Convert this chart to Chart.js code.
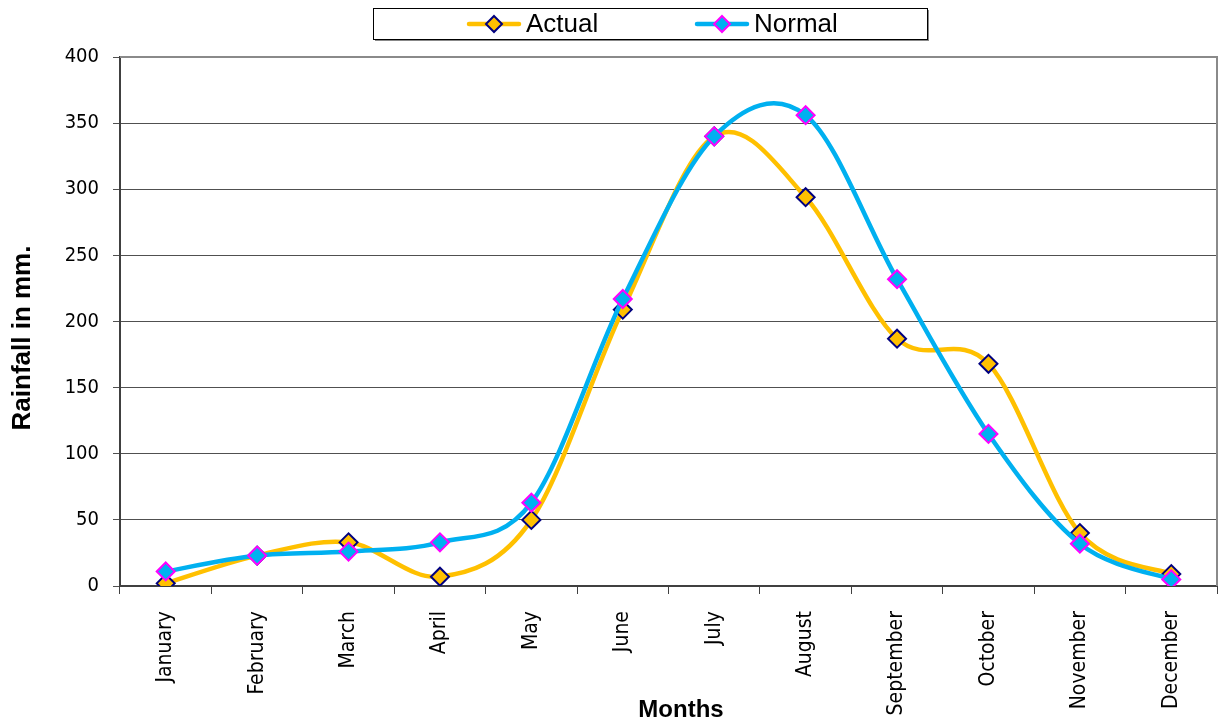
<!DOCTYPE html>
<html>
<head>
<meta charset="utf-8">
<script src="https://cdn.jsdelivr.net/npm/chart.js@4/dist/chart.umd.min.js"></script>
<style>
html,body{margin:0;padding:0;background:#fff;}
#wrap{width:1221px;height:728px;}
</style>
</head>
<body>
<div id="wrap"><canvas id="c" width="1221" height="728"></canvas></div>
<script>
const months = ["January","February","March","April","May","June","July","August","September","October","November","December"];
const actualValues = [2, 23, 33, 7, 50, 209, 340, 294, 187, 168, 40, 9];
const normalValues = [11, 23, 26, 33, 63, 217, 340, 356, 232, 115, 32, 5];
const yTicks = [0, 50, 100, 150, 200, 250, 300, 350, 400];
const seriesNames = ["Actual", "Normal"];
const xTitle = "Months";
const yTitle = "Rainfall in mm.";

const yTickFont = {family: "'DejaVu Sans Condensed','DejaVu Sans',sans-serif", size: 20};
const xTickFont = {family: "'DejaVu Sans Condensed','DejaVu Sans',sans-serif", size: 21};

// Excel-like smoothing (uniform Catmull-Rom) applied to the library's own point elements
const smooth = {
  id: 'smooth',
  beforeDatasetsDraw(chart) {
    chart.data.datasets.forEach((ds, i) => {
      const meta = chart.getDatasetMeta(i);
      const pts = meta.data;
      const n = pts.length;
      for (let k = 0; k < n; k++) {
        const p = pts[k];
        const prev = pts[Math.max(0, k - 1)];
        const next = pts[Math.min(n - 1, k + 1)];
        const tx = (next.x - prev.x) / 6;
        const ty = (next.y - prev.y) / 6;
        p.cp1x = p.x - tx; p.cp1y = p.y - ty;
        p.cp2x = p.x + tx; p.cp2y = p.y + ty;
      }
      if (meta.dataset) {
        meta.dataset._pointsUpdated = true;
        meta.dataset._path = undefined;
      }
    });
  }
};

const frame = {
  id: 'frame',
  beforeDatasetsDraw(chart) {
    const {ctx, chartArea: a} = chart;
    ctx.save();
    ctx.strokeStyle = '#8a8a8a';
    ctx.lineWidth = 2;
    ctx.beginPath();
    ctx.moveTo(a.left, a.top);
    ctx.lineTo(a.right, a.top);
    ctx.lineTo(a.right, a.bottom);
    ctx.stroke();
    ctx.restore();
  },
  afterDraw(chart) {
    const {ctx} = chart;
    ctx.save();
    ctx.fillStyle = '#000';
    ctx.textAlign = 'center';
    ctx.textBaseline = 'middle';
    ctx.font = "bold 24px 'Liberation Sans', Arial, sans-serif";
    ctx.fillText(xTitle, 681, 710);
    ctx.save();
    ctx.translate(23, 338);
    ctx.rotate(-Math.PI / 2);
    ctx.font = "bold 26px 'Liberation Sans', Arial, sans-serif";
    ctx.fillText(yTitle, 0, 0);
    ctx.restore();
    // legend box
    const bx = 373, by = 8, bw = 554, bh = 31;
    ctx.fillStyle = '#888';
    ctx.fillRect(bx + 2, by + 2, bw, bh);
    ctx.fillStyle = '#fff';
    ctx.fillRect(bx, by, bw, bh);
    ctx.strokeStyle = '#000';
    ctx.lineWidth = 1;
    ctx.strokeRect(bx + 0.5, by + 0.5, bw, bh);
    const starts = [469, 697];
    const cy = 24;
    chart.data.datasets.forEach((ds, i) => {
      const x0 = starts[i];
      ctx.strokeStyle = ds.borderColor;
      ctx.lineWidth = 4.5;
      ctx.lineCap = 'round';
      ctx.beginPath();
      ctx.moveTo(x0, cy);
      ctx.lineTo(x0 + 50, cy);
      ctx.stroke();
      const cx = x0 + 25, r = 8;
      ctx.beginPath();
      ctx.moveTo(cx, cy - r);
      ctx.lineTo(cx + r, cy);
      ctx.lineTo(cx, cy + r);
      ctx.lineTo(cx - r, cy);
      ctx.closePath();
      ctx.fillStyle = ds.pointBackgroundColor;
      ctx.fill();
      ctx.strokeStyle = ds.pointBorderColor;
      ctx.lineWidth = 2;
      ctx.stroke();
      ctx.fillStyle = '#000';
      ctx.textAlign = 'left';
      ctx.font = "26px 'Liberation Sans', Arial, sans-serif";
      ctx.fillText(ds.label, x0 + 57, cy + 1);
    });
    ctx.restore();
  }
};

new Chart(document.getElementById('c'), {
  type: 'line',
  data: {
    labels: months,
    datasets: [
      {
        label: seriesNames[0],
        data: actualValues,
        borderColor: '#FFC000',
        backgroundColor: '#FFC000',
        borderWidth: 4.5,
        tension: 0.4,
        pointStyle: 'rectRot',
        pointRadius: 9,
        pointBackgroundColor: '#FFC000',
        pointBorderColor: '#000080',
        pointBorderWidth: 2,
        order: 2
      },
      {
        label: seriesNames[1],
        data: normalValues,
        borderColor: '#00B0F0',
        backgroundColor: '#00B0F0',
        borderWidth: 4.5,
        tension: 0.4,
        pointStyle: 'rectRot',
        pointRadius: 9,
        pointBackgroundColor: '#00B0F0',
        pointBorderColor: '#FF00FF',
        pointBorderWidth: 2,
        order: 1
      }
    ]
  },
  options: {
    responsive: false,
    animation: false,
    devicePixelRatio: 1,
    layout: {autoPadding: false, padding: {left: 0, top: 57, right: 4, bottom: 0}},
    plugins: {legend: {display: false}, tooltip: {enabled: false}},
    scales: {
      x: {
        offset: true,
        grid: {offset: true, drawOnChartArea: false, tickLength: 8, color: '#404040', lineWidth: 1},
        border: {color: '#404040', width: 2},
        ticks: {font: xTickFont, color: '#000', maxRotation: 90, minRotation: 90, autoSkip: false, padding: 17},
        afterFit(s) { s.height = 142; s.paddingLeft = 0; s.paddingRight = 0; }
      },
      y: {
        min: 0, max: 400,
        afterBuildTicks(s) { s.ticks = yTicks.map(v => ({value: v})); },
        grid: {color: '#505050', lineWidth: 1, tickLength: 7},
        border: {color: '#404040', width: 2},
        ticks: {font: yTickFont, color: '#000', padding: 14},
        afterFit(s) { s.width = 120; s.paddingTop = 0; s.paddingBottom = 0; }
      }
    }
  },
  plugins: [smooth, frame]
});
</script>
</body>
</html>
